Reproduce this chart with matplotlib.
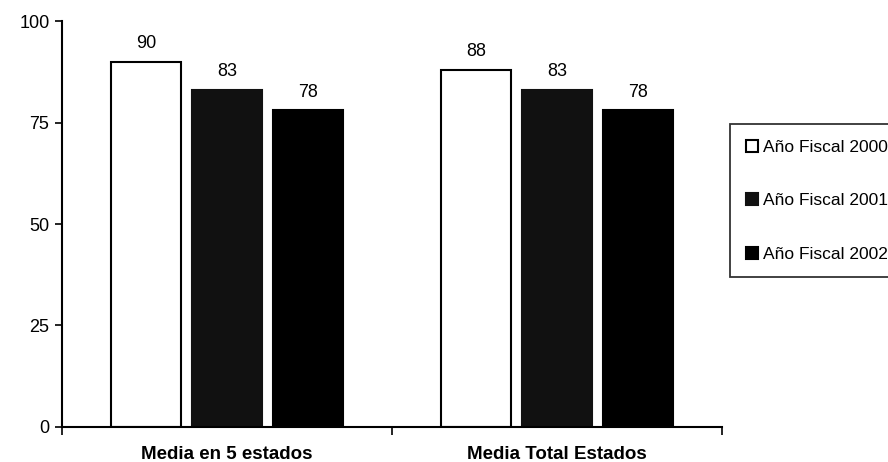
import matplotlib.pyplot as plt
import numpy as np

# data
categories = ['Media en 5 estados', 'Media Total Estados']
series_names = ['Año Fiscal 2000', 'Año Fiscal 2001', 'Año Fiscal 2002']
fy2000 = [90, 88]
fy2001 = [83, 83]
fy2002 = [78, 78]

plt.rcParams['font.family'] = ['Liberation Sans', 'DejaVu Sans']

fig = plt.figure(figsize=(8.88, 4.62), dpi=100)
ax = fig.add_axes([0.0698, 0.0758, 0.7432, 0.8787])

x = np.arange(len(categories))
width = 0.212
step = 0.245
styles = [('white', 'black'), ('#111111', '#111111'), ('black', 'black')]

for i, vals in enumerate([fy2000, fy2001, fy2002]):
    fc, ec = styles[i]
    bars = ax.bar(x + (i - 1) * step, vals, width, color=fc, edgecolor=ec,
                  linewidth=1.5, label=series_names[i])
    for b, v in zip(bars, vals):
        ax.annotate(str(v), (b.get_x() + b.get_width() / 2, v), xytext=(0, 7),
                    textcoords='offset points', ha='center', va='bottom', fontsize=13)

ax.set_xlim(-0.5, 1.5)
ax.set_ylim(0, 100)
ax.set_yticks([0, 25, 50, 75, 100])
ax.tick_params(axis='y', direction='out', length=5, width=1.2, labelsize=13, pad=4)

ax.set_xticks([-0.5, 0.5, 1.5])
ax.set_xticklabels([])
ax.tick_params(axis='x', which='major', direction='out', length=6, width=1.2)
ax.set_xticks(x, minor=True)
ax.set_xticklabels(categories, minor=True, fontsize=13.5, fontweight='bold')
ax.tick_params(axis='x', which='minor', length=0, pad=14)

for s in ['top', 'right']:
    ax.spines[s].set_visible(False)
for s in ['left', 'bottom']:
    ax.spines[s].set_linewidth(1.5)

leg = fig.legend(loc='upper left', bbox_to_anchor=(0.822, 0.731), fontsize=12.5,
                 frameon=True, fancybox=False, edgecolor='black', handlelength=0.7,
                 handleheight=0.7, handletextpad=0.3, labelspacing=2.2,
                 borderpad=0.9, borderaxespad=0)
leg.get_frame().set_linewidth(1.3)

fig.savefig('out.png', dpi=100)
